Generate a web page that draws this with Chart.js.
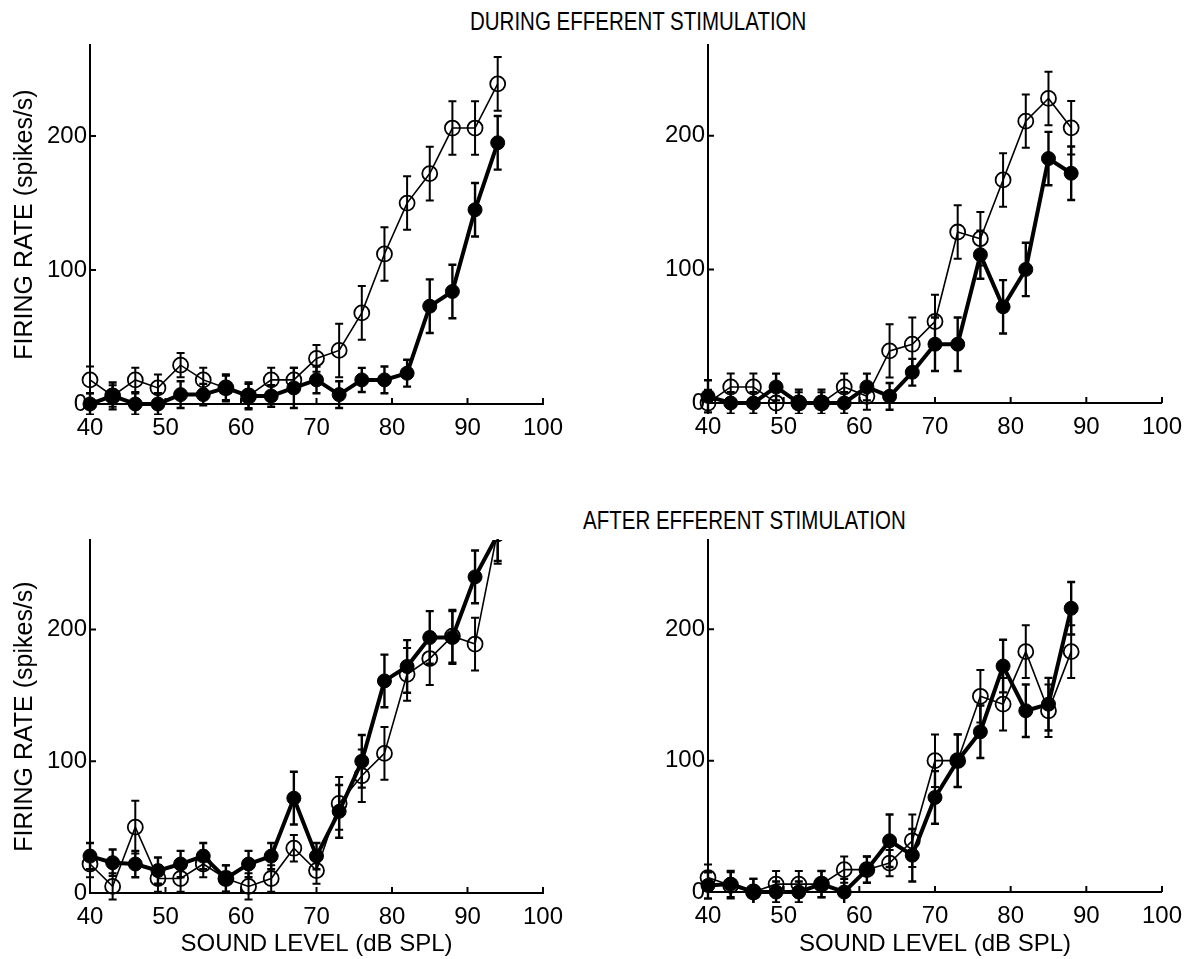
<!DOCTYPE html>
<html>
<head>
<meta charset="utf-8">
<script src="https://cdn.jsdelivr.net/npm/chart.js@4.4.0/dist/chart.umd.min.js"></script>
<style>
body{margin:0;background:#fff;width:1192px;height:959px;position:relative;overflow:hidden;font-family:"Liberation Sans",Arial,Helvetica,sans-serif}
.panel{position:absolute}
.head{position:absolute;font-size:20.5px;line-height:24px;transform:scaleY(1.3);white-space:nowrap;color:#000}
</style>
</head>
<body>
<div class="head" style="left:470px;top:9px">DURING EFFERENT STIMULATION</div>
<div class="head" style="left:583px;top:508px">AFTER EFFERENT STIMULATION</div>

<canvas id="c1" class="panel" width="600" height="450" style="left:0;top:0"></canvas>
<canvas id="c2" class="panel" width="574" height="450" style="left:618px;top:0"></canvas>
<canvas id="c3" class="panel" width="600" height="469" style="left:0;top:490px"></canvas>
<canvas id="c4" class="panel" width="574" height="469" style="left:618px;top:490px"></canvas>

<script>
// sound levels (dB SPL)
const levels = [40, 43, 46, 49, 52, 55, 58, 61, 64, 67, 70, 73, 76, 79, 82, 85, 88, 91, 94];
const xTicks = [40, 50, 60, 70, 80, 90, 100];
const yTicks = [0, 100, 200];

// during stimulation, left unit
const openA      = [18, 6, 18, 12, 29, 18, 12, 6, 18, 18, 34, 40, 68, 112, 150, 172, 206, 206, 239];
const openAErr   = [10, 8, 9, 10, 9, 9, 9, 9, 9, 9, 10, 20, 20, 20, 20, 20, 20, 20, 20];
const filledA    = [0, 6, 0, 0, 7, 7, 12, 6, 6, 12, 18, 7, 18, 18, 23, 73, 84, 145, 195];
const filledAErr = [8, 10, 8, 8, 10, 8, 10, 10, 8, 15, 10, 10, 9, 10, 10, 20, 20, 20, 20];

// during stimulation, right unit (up to 88 dB)
const openB      = [0, 12, 12, 0, 0, 0, 12, 5, 39, 44, 61, 128, 123, 167, 211, 228, 206];
const openBErr   = [10, 10, 10, 10, 8, 8, 10, 10, 20, 20, 20, 20, 20, 20, 20, 20, 20];
const filledB    = [5, 0, 0, 12, 0, 0, 0, 12, 5, 23, 44, 44, 111, 72, 100, 183, 172];
const filledBErr = [12, 8, 8, 10, 10, 10, 8, 10, 10, 10, 20, 20, 18, 20, 20, 20, 20];

// after stimulation, left unit
const openC      = [22, 5, 50, 11, 11, 22, 11, 5, 11, 34, 17, 68, 89, 106, 166, 178, 195, 189, 275];
const openCErr   = [10, 10, 20, 10, 10, 10, 10, 10, 10, 10, 10, 20, 20, 20, 20, 20, 20, 20, 25];
const filledC    = [28, 23, 22, 17, 22, 28, 11, 22, 28, 72, 28, 62, 100, 161, 172, 194, 194, 240, 272];
const filledCErr = [10, 10, 10, 10, 10, 10, 10, 10, 10, 20, 10, 20, 20, 20, 20, 20, 20, 20, 20];

// after stimulation, right unit (up to 88 dB)
const openD      = [11, 5, 0, 6, 6, 6, 17, 17, 22, 39, 100, 100, 149, 143, 183, 138, 183];
const openDErr   = [10, 10, 10, 10, 10, 10, 10, 10, 10, 20, 20, 20, 20, 20, 20, 20, 20];
const filledD    = [5, 6, 0, 0, 0, 6, 0, 17, 39, 28, 72, 100, 122, 172, 138, 143, 216];
const filledDErr = [10, 10, 10, 8, 8, 10, 10, 10, 20, 20, 20, 20, 20, 20, 20, 20, 20];

const FONT = '"Liberation Sans", Arial, Helvetica, sans-serif';

// vertical error bars with caps, drawn through the chart scales
const errorBars = {
  id: 'errorBars',
  afterDatasetsDraw(chart) {
    const {ctx, chartArea: a, scales: {x, y}} = chart;
    ctx.save();
    ctx.beginPath();
    ctx.rect(a.left - 10, a.top - 1, a.width + 20, a.height + 12);
    ctx.clip();
    ctx.strokeStyle = '#000';
    chart.data.datasets.forEach(ds => {
      ctx.lineWidth = ds.errWidth;
      ds.data.forEach((p, i) => {
        const e = ds.errors[i];
        const px = x.getPixelForValue(p.x);
        const hi = y.getPixelForValue(p.y + e);
        const lo = y.getPixelForValue(p.y - e);
        ctx.beginPath();
        ctx.moveTo(px, hi); ctx.lineTo(px, lo);
        ctx.moveTo(px - 4, hi); ctx.lineTo(px + 4, hi);
        ctx.moveTo(px - 4, lo); ctx.lineTo(px + 4, lo);
        ctx.stroke();
      });
    });
    ctx.restore();
  }
};

// small inward tick marks
const innerTicks = {
  id: 'innerTicks',
  afterDraw(chart) {
    const {ctx, chartArea: a, scales: {x, y}} = chart;
    ctx.save();
    ctx.strokeStyle = '#000';
    ctx.lineWidth = 2;
    ctx.beginPath();
    x.ticks.forEach(t => {
      const px = x.getPixelForValue(t.value);
      ctx.moveTo(px, a.bottom); ctx.lineTo(px, a.bottom - 6);
    });
    y.ticks.forEach(t => {
      const py = y.getPixelForValue(t.value);
      ctx.moveTo(a.left, py); ctx.lineTo(a.left + 6, py);
    });
    ctx.stroke();
    ctx.restore();
  }
};

function pts(vals) {
  return vals.map((v, i) => ({x: levels[i], y: v}));
}

function makePanel(id, open, openErr, filled, filledErr, o) {
  new Chart(document.getElementById(id), {
    type: 'line',
    data: {
      datasets: [
        {
          data: pts(filled), errors: filledErr, errWidth: 2.4,
          borderColor: '#000', borderWidth: 4,
          pointRadius: 7, pointBackgroundColor: '#000', pointBorderColor: '#000', pointBorderWidth: 1,
          tension: 0, order: 0,
          clip: {left: 12, right: 12, top: 0, bottom: 12}
        },
        {
          data: pts(open), errors: openErr, errWidth: 2,
          borderColor: '#000', borderWidth: 1.6,
          pointRadius: 7.5, pointBackgroundColor: 'rgba(0,0,0,0)', pointBorderColor: '#000', pointBorderWidth: 1.8,
          tension: 0, order: 1,
          clip: {left: 12, right: 12, top: 0, bottom: 12}
        }
      ]
    },
    options: {
      responsive: false,
      animation: false,
      layout: {padding: {top: o.top, right: o.right, left: 0, bottom: 0}},
      plugins: {legend: {display: false}, tooltip: {enabled: false}},
      scales: {
        x: {
          type: 'linear', min: 40, max: 100,
          afterBuildTicks: s => { s.ticks = xTicks.map(v => ({value: v})); },
          afterFit: s => { s.height = o.xH; },
          grid: {display: true, drawOnChartArea: false, drawTicks: false},
          border: {display: true, color: '#000', width: 2},
          ticks: {color: '#000', padding: 10, maxRotation: 0, font: {family: FONT, size: 24}},
          title: {display: !!o.xTitle, text: o.xTitle || '', color: '#000', padding: {top: 0, bottom: 0},
                  font: {family: FONT, size: 24}}
        },
        y: {
          type: 'linear', min: 0, max: 268,
          afterBuildTicks: s => { s.ticks = yTicks.map(v => ({value: v})); },
          afterFit: s => { s.width = 90; },
          grid: {display: true, drawOnChartArea: false, drawTicks: false},
          border: {display: true, color: '#000', width: 2},
          ticks: {color: '#000', padding: 3, font: {family: FONT, size: 24}},
          title: {display: !!o.yTitle, text: o.yTitle || '', color: '#000', padding: {top: 10, bottom: 0},
                  font: {family: FONT, size: 25}}
        }
      }
    },
    plugins: [errorBars, innerTicks]
  });
}

makePanel('c1', openA, openAErr, filledA, filledAErr,
  {top: 45, right: 57, xH: 46, yTitle: 'FIRING RATE (spikes/s)'});
makePanel('c2', openB, openBErr, filledB, filledBErr,
  {top: 45, right: 27, xH: 47});
makePanel('c3', openC, openCErr, filledC, filledCErr,
  {top: 50, right: 57, xH: 66, yTitle: 'FIRING RATE (spikes/s)', xTitle: 'SOUND LEVEL (dB SPL)'});
makePanel('c4', openD, openDErr, filledD, filledDErr,
  {top: 50, right: 27, xH: 67, xTitle: 'SOUND LEVEL (dB SPL)'});
</script>
</body>
</html>
